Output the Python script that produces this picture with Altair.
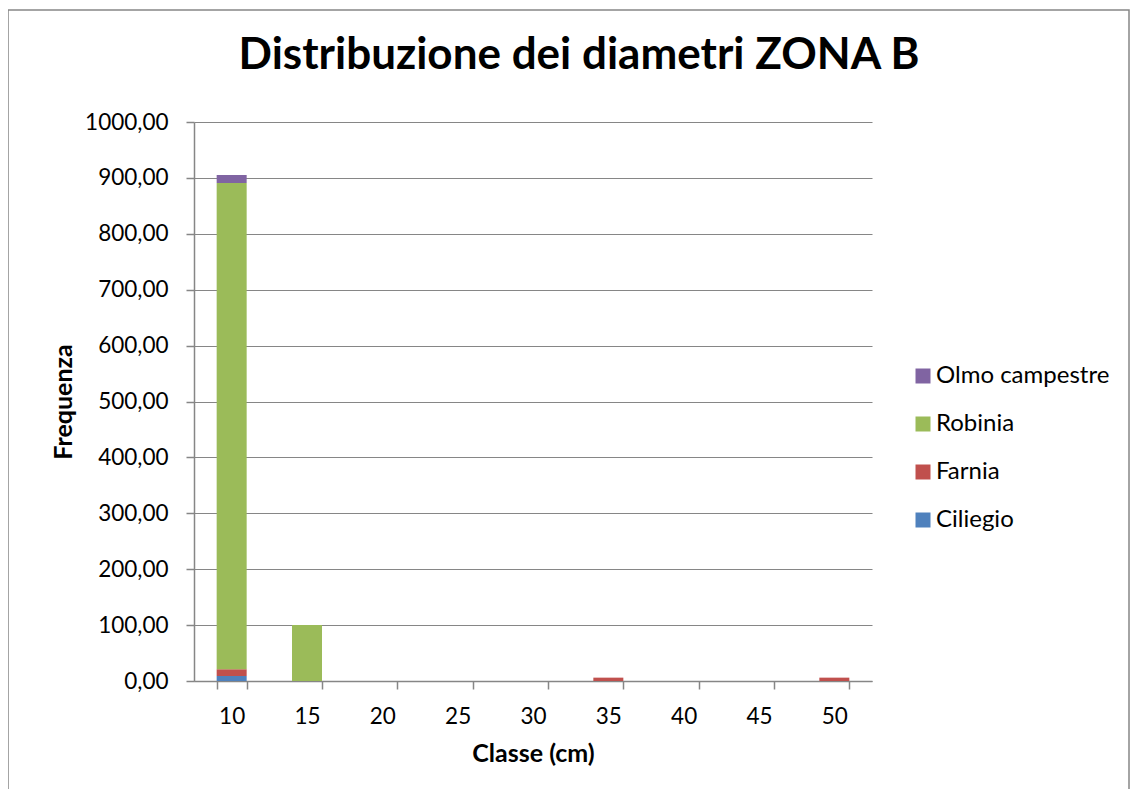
import altair as alt
import pandas as pd

title_text = "Distribuzione dei diametri ZONA B"
classes = ["10", "15", "20", "25", "30", "35", "40", "45", "50"]
species = ["Ciliegio", "Farnia", "Robinia", "Olmo campestre"]
ciliegio = [9, 0, 0, 0, 0, 0, 0, 0, 0]
farnia = [12, 0, 0, 0, 0, 6, 0, 0, 6]
robinia = [870, 100, 0, 0, 0, 0, 0, 0, 0]
olmo = [14, 0, 0, 0, 0, 0, 0, 0, 0]
colors = ["#4F81BD", "#C0504D", "#9BBB59", "#8064A2"]

rows = []
for sp, vals in zip(species, [ciliegio, farnia, robinia, olmo]):
    for c, v in zip(classes, vals):
        rows.append({"Classe": c, "Specie": sp, "Frequenza": v, "ord": species.index(sp)})
df = pd.DataFrame(rows)

FONT = "Lato"

bars = alt.Chart(df).mark_bar(size=30).encode(
    x=alt.X("Classe:N", sort=classes, title="Classe (cm)",
            scale=alt.Scale(paddingInner=0.6, paddingOuter=0.3),
            axis=alt.Axis(labelAngle=0, tickBand="extent", tickSize=8,
                          labelPadding=16, titlePadding=14)),
    y=alt.Y("Frequenza:Q", stack="zero", title="Frequenza",
            scale=alt.Scale(domain=[0, 1000]),
            axis=alt.Axis(values=list(range(0, 1001, 100)), tickSize=8,
                          labelExpr="replace(format(datum.value, '.2f'), '.', ',')",
                          labelPadding=18, titlePadding=8)),
    color=alt.Color("Specie:N", scale=alt.Scale(domain=species, range=colors),
                    legend=alt.Legend(title=None, orient="none", legendX=717, legendY=242,
                                      symbolType="square", symbolSize=225,
                                      rowPadding=24, labelFontSize=24, labelFont=FONT,
                                      labelColor="#000000", symbolStrokeWidth=0,
                                      labelLimit=0, labelOffset=1, values=species[::-1])),
    order=alt.Order("ord:Q", sort="ascending"),
)

border = alt.Chart(pd.DataFrame({"a": [0]})).mark_rect(
    fill=None, stroke="#868686", strokeWidth=1.5
).encode(x=alt.value(-186), x2=alt.value(935), y=alt.value(-112), y2=alt.value(700))

title = alt.Chart(pd.DataFrame({"t": [title_text]})).mark_text(
    font=FONT, fontSize=44, fontWeight="bold", color="#000000",
    align="center", baseline="alphabetic"
).encode(text="t:N", x=alt.value(385), y=alt.value(-53))

chart = alt.layer(border, bars, title).properties(
    width=678, height=559,
    padding={"left": 186, "top": 114, "right": 258, "bottom": 108},
    autosize=alt.AutoSizeParams(type="none"),
).configure_view(stroke=None).configure_axis(
    labelFont=FONT, titleFont=FONT, labelFontSize=22.5, titleFontSize=25,
    labelColor="#000000", titleColor="#000000", titleFontWeight="bold",
    domainColor="#868686", tickColor="#868686", gridColor="#868686",
    domainWidth=1.5, tickWidth=1.5, gridWidth=1.2,
).configure_axisX(grid=False).configure_axisY(grid=True)

chart.save("out.html", embed_options={"renderer": "svg", "actions": False})
